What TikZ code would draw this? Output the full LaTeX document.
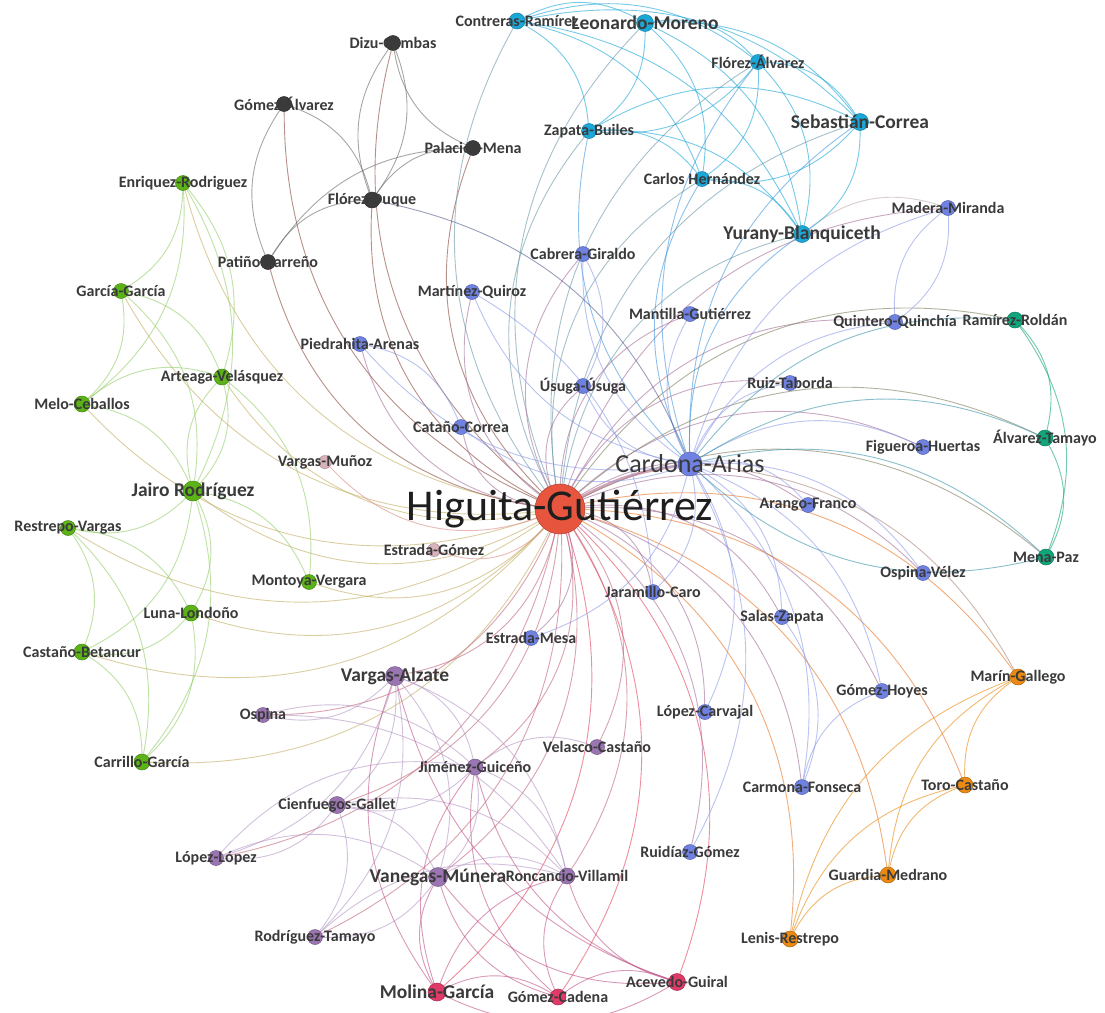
\documentclass[tikz,border=0pt]{standalone}
\usepackage{fontspec}
\setmainfont{Carlito}
\definecolor{cRed}{HTML}{E8553F}
\definecolor{cBlue}{HTML}{6F82E2}
\definecolor{cCyan}{HTML}{1BA8D9}
\definecolor{cBlk}{HTML}{3B3B3B}
\definecolor{cGrn}{HTML}{5BB318}
\definecolor{cTeal}{HTML}{11A57C}
\definecolor{cOrg}{HTML}{EA8A12}
\definecolor{cPur}{HTML}{9B75B2}
\definecolor{cCrm}{HTML}{E03A69}
\definecolor{cPnk}{HTML}{D9B3BC}
\definecolor{hGrn}{HTML}{C4AE62}
\definecolor{labgray}{HTML}{3A3A3A}
\definecolor{labdark}{HTML}{1E1E1E}
\pgfdeclarelayer{edges}
\pgfdeclarelayer{labels}
\pgfsetlayers{edges,main,labels}
\begin{document}
\begin{tikzpicture}[x=1pt,y=-1pt,
  vtx/.style 2 args={circle,inner sep=0pt,minimum size=#2,fill=#1,draw=#1!75!black,line width=0.5pt},
  lab/.style={inner sep=0pt,text=labgray,font=\bfseries\fontsize{16}{16}\selectfont},
  labm/.style={inner sep=0pt,text=labgray,font=\bfseries\fontsize{19.5}{19.5}\selectfont},
  labc/.style={inner sep=0pt,text=labgray,font=\fontsize{26}{26}\selectfont},
  labh/.style={inner sep=0pt,text=labdark,font=\fontsize{44}{44}\selectfont},
  lnk/.style={line width=0.9pt,opacity=0.6,bend left=28},
  lnkr/.style={line width=0.9pt,opacity=0.6,bend right=28},
  hub/.style={line width=0.9pt,opacity=0.6,bend left=33},
]
\begin{pgfonlayer}{edges}
\fill[white] (0,0) rectangle (1105,1012);
\end{pgfonlayer}
\useasboundingbox (0,0) rectangle (1105,1012);

% ---- vertices ----
\node[vtx={cRed}{50}] (higu) at (560,509) {};
% black
\node[vtx={cBlk}{15}] (dizu) at (393,43) {};
\node[vtx={cBlk}{15}] (goma) at (284,104) {};
\node[vtx={cBlk}{15}] (pala) at (473,148) {};
\node[vtx={cBlk}{16}] (flod) at (372,200) {};
\node[vtx={cBlk}{15}] (pati) at (268,262) {};
% cyan
\node[vtx={cCyan}{16}] (cont) at (517,21) {};
\node[vtx={cCyan}{17}] (leon) at (645,23) {};
\node[vtx={cCyan}{15}] (floa) at (758,62) {};
\node[vtx={cCyan}{15}] (zapa) at (589,131) {};
\node[vtx={cCyan}{17}] (seba) at (860,122) {};
\node[vtx={cCyan}{15}] (carl) at (702,179) {};
\node[vtx={cCyan}{17}] (yura) at (802,234) {};
% blue
\node[vtx={cBlue}{15}] (made) at (948,208) {};
\node[vtx={cBlue}{15}] (cabr) at (583,254) {};
\node[vtx={cBlue}{15}] (mart) at (472,292) {};
\node[vtx={cBlue}{15}] (mant) at (690,314) {};
\node[vtx={cBlue}{15}] (quin) at (895,322) {};
\node[vtx={cBlue}{15}] (pied) at (360,344) {};
\node[vtx={cBlue}{15}] (usug) at (583,386) {};
\node[vtx={cBlue}{15}] (ruiz) at (790,383) {};
\node[vtx={cBlue}{15}] (cata) at (461,427) {};
\node[vtx={cBlue}{24}] (card) at (690,464) {};
\node[vtx={cBlue}{15}] (figu) at (923,447) {};
\node[vtx={cBlue}{15}] (aran) at (808,505) {};
\node[vtx={cBlue}{15}] (ospv) at (923,573) {};
\node[vtx={cBlue}{15}] (jara) at (653,592) {};
\node[vtx={cBlue}{15}] (sala) at (782,617) {};
\node[vtx={cBlue}{15}] (estm) at (531,638) {};
\node[vtx={cBlue}{15}] (lopc) at (705,712) {};
\node[vtx={cBlue}{15}] (gomh) at (882,691) {};
\node[vtx={cBlue}{15}] (carm) at (802,787) {};
\node[vtx={cBlue}{15}] (ruid) at (690,852) {};
% teal
\node[vtx={cTeal}{16}] (rami) at (1015,320) {};
\node[vtx={cTeal}{16}] (alva) at (1045,438) {};
\node[vtx={cTeal}{16}] (mena) at (1046,557) {};
% orange
\node[vtx={cOrg}{16}] (mari) at (1018,677) {};
\node[vtx={cOrg}{16}] (toro) at (965,785) {};
\node[vtx={cOrg}{16}] (guar) at (888,875) {};
\node[vtx={cOrg}{16}] (leni) at (790,939) {};
% pale
\node[vtx={cPnk}{13}] (varm) at (325,462) {};
\node[vtx={cPnk}{13}] (estg) at (434,550) {};
% green
\node[vtx={cGrn}{15}] (enri) at (183,183) {};
\node[vtx={cGrn}{15}] (garc) at (121,291) {};
\node[vtx={cGrn}{16}] (arte) at (222,377) {};
\node[vtx={cGrn}{16}] (melo) at (82,404) {};
\node[vtx={cGrn}{20}] (jair) at (193,491) {};
\node[vtx={cGrn}{15}] (rest) at (68,528) {};
\node[vtx={cGrn}{15}] (mont) at (309,582) {};
\node[vtx={cGrn}{16}] (luna) at (191,613) {};
\node[vtx={cGrn}{16}] (cast) at (82,652) {};
\node[vtx={cGrn}{16}] (carr) at (142,762) {};
% purple
\node[vtx={cPur}{19}] (vara) at (395,676) {};
\node[vtx={cPur}{15}] (ospi) at (263,715) {};
\node[vtx={cPur}{16}] (jime) at (475,767) {};
\node[vtx={cPur}{15}] (vela) at (597,747) {};
\node[vtx={cPur}{17}] (cien) at (337,805) {};
\node[vtx={cPur}{15}] (lopl) at (216,858) {};
\node[vtx={cPur}{19}] (vane) at (438,877) {};
\node[vtx={cPur}{16}] (ronc) at (567,876) {};
\node[vtx={cPur}{15}] (rodt) at (315,937) {};
% crimson
\node[vtx={cCrm}{18}] (moli) at (437,992) {};
\node[vtx={cCrm}{16}] (gomc) at (558,997) {};
\node[vtx={cCrm}{17}] (acev) at (677,982) {};

% ---- links ----
\begin{pgfonlayer}{edges}
% from the central author
\begin{scope}[draw=hGrn]
\foreach \t in {enri,garc,arte,melo,jair,rest,mont,luna,cast,carr}
  \draw[hub] (higu) to (\t);
\end{scope}
\begin{scope}[draw=cBlk!55!cRed]
\foreach \t in {dizu,goma,pala,flod,pati}
  \draw[hub] (higu) to (\t);
\end{scope}
\begin{scope}[draw=cCyan!45!cBlk!70!white]
\foreach \t in {cont,leon,floa,zapa,seba,carl,yura}
  \draw[hub] (higu) to (\t);
\end{scope}
\begin{scope}[draw=cBlue!55!cRed]
\foreach \t in {made,cabr,mart,mant,quin,pied,usug,ruiz,cata,figu,aran,ospv,jara,sala,estm,lopc,gomh,carm,ruid}
  \draw[hub] (higu) to (\t);
\end{scope}
\begin{scope}[draw=cTeal!50!cRed]
\foreach \t in {rami,alva,mena}
  \draw[hub] (higu) to (\t);
\end{scope}
\begin{scope}[draw=cOrg!60!cRed]
\foreach \t in {mari,toro,guar,leni}
  \draw[hub] (higu) to (\t);
\end{scope}
\begin{scope}[draw=cPur!50!cRed]
\foreach \t in {vara,ospi,jime,vela,cien,lopl,vane,ronc,rodt}
  \draw[hub] (higu) to (\t);
\end{scope}
\begin{scope}[draw=cCrm!70!cRed]
\foreach \t in {moli,gomc,acev}
  \draw[hub] (higu) to (\t);
\end{scope}
\begin{scope}[draw=cPnk!60!cRed]
\foreach \t in {varm,estg}
  \draw[hub] (higu) to (\t);
\end{scope}
\draw[line width=3pt,opacity=0.6,draw=cBlue!45!cRed,bend left=10] (higu) to (card);

% Cardona-Arias links
\begin{scope}[draw=cBlue!80!white]
\foreach \t in {made,cabr,mart,mant,quin,pied,usug,ruiz,cata,figu,aran,ospv,jara,sala,estm,lopc,gomh,carm,ruid}
  \draw[lnk] (card) to (\t);
\end{scope}
\begin{scope}[draw=cTeal!55!cBlue]
\foreach \t in {rami,alva,mena}
  \draw[lnk] (card) to (\t);
\draw[lnkr] (card) to (mena);
\end{scope}
\begin{scope}[draw=cCyan!55!cBlue]
\foreach \t in {seba,carl,yura,floa,zapa}
  \draw[lnk] (card) to (\t);
\end{scope}
\draw[lnk,draw=cOrg!50!cBlue] (card) to (mari);
\draw[lnk,draw=cBlk!50!cBlue] (flod) to (card);
\draw[lnk,draw=cCyan!40!cRed!60!white] (yura) to (made);

% black group
\begin{scope}[draw=cBlk!75!white]
\draw[lnk] (dizu) to (flod);
\draw[lnk] (flod) to (dizu);
\draw[lnk] (pala) to (dizu);
\draw[lnk] (goma) to (flod);
\draw[lnk] (pati) to (goma);
\draw[lnk] (pati) to (flod);
\draw[lnk] (flod) to (pala);
\draw[lnk] (pati) to (pala);
\end{scope}

% cyan group
\begin{scope}[draw=cCyan]
\foreach \a/\b in {cont/leon,cont/floa,cont/zapa,cont/seba,cont/carl,cont/yura,
  leon/floa,leon/zapa,leon/seba,leon/carl,leon/yura,
  floa/zapa,floa/seba,floa/carl,floa/yura,
  zapa/seba,zapa/carl,zapa/yura,
  seba/carl,seba/yura,carl/yura}
  \draw[lnk] (\a) to (\b);
\end{scope}

% blue group
\begin{scope}[draw=cBlue!80!white]
\draw[lnk] (made) to (quin);
\draw[lnk] (quin) to (made);
\draw[lnk] (cabr) to (usug);
\draw[lnk] (pied) to (cata);
\draw[lnk] (sala) to (carm);
\draw[lnk] (carm) to (gomh);
\draw[lnk] (mart) to (jara);
\end{scope}

% teal group
\begin{scope}[draw=cTeal]
\draw[lnk] (rami) to (alva);
\draw[lnk] (alva) to (mena);
\draw[lnk] (rami) to (mena);
\end{scope}

% orange group
\begin{scope}[draw=cOrg]
\foreach \a/\b in {mari/toro,mari/guar,mari/leni,toro/guar,toro/leni,guar/leni}
  \draw[lnk] (\b) to (\a);
\end{scope}

% green group
\begin{scope}[draw=cGrn!65!white]
\foreach \a/\b in {enri/garc,enri/melo,enri/jair,enri/arte,garc/melo,garc/arte,
  garc/jair,melo/jair,melo/arte,arte/jair,jair/arte,arte/mont,jair/rest,jair/luna,
  jair/cast,jair/carr,jair/mont,rest/cast,rest/carr,rest/luna,luna/cast,luna/carr,cast/carr}
  \draw[lnk] (\a) to (\b);
\end{scope}

% purple group
\begin{scope}[draw=cPur!75!white]
\foreach \a/\b in {vara/ospi,vara/jime,vara/cien,vara/vane,vara/ronc,vara/rodt,vara/lopl,
  ospi/jime,ospi/ronc,jime/cien,jime/vane,jime/ronc,jime/vela,cien/lopl,cien/vane,
  cien/ronc,cien/rodt,lopl/vane,lopl/jime,vane/ronc,vane/rodt,rodt/ronc}
  \draw[lnk] (\a) to (\b);
\end{scope}

% crimson group
\begin{scope}[draw=cCrm!55!cPur]
\foreach \a/\b in {moli/gomc,gomc/acev,moli/jime,moli/vane,moli/ronc,moli/vara,
  gomc/jime,gomc/ronc,gomc/vane,acev/jime,acev/vara,acev/vane,acev/ronc}
  \draw[lnk] (\a) to (\b);
\draw[lnkr] (moli) to (acev);
\end{scope}
\end{pgfonlayer}

% ---- labels ----
\begin{pgfonlayer}{labels}
\node[labh] (t-higu) at (higu) {Higuita-Gutiérrez};
\node[labc] (t-card) at (card) {Cardona-Arias};
\node[lab] (t-dizu) at (dizu) {Dizu-Combas};
\node[lab] (t-goma) at (goma) {Gómez-Álvarez};
\node[lab] (t-pala) at (pala) {Palacios-Mena};
\node[lab] (t-flod) at (flod) {Flórez-Duque};
\node[lab] (t-pati) at (pati) {Patiño-Carreño};
\node[lab] (t-cont) at (cont) {Contreras-Ramírez};
\node[labm] (t-leon) at (leon) {Leonardo-Moreno};
\node[lab] (t-floa) at (floa) {Flórez-Álvarez};
\node[lab] (t-zapa) at (zapa) {Zapata-Builes};
\node[labm] (t-seba) at (seba) {Sebastián-Correa};
\node[lab] (t-carl) at (carl) {Carlos Hernández};
\node[labm] (t-yura) at (yura) {Yurany-Blanquiceth};
\node[lab] (t-made) at (made) {Madera-Miranda};
\node[lab] (t-cabr) at (cabr) {Cabrera-Giraldo};
\node[lab] (t-mart) at (mart) {Martínez-Quiroz};
\node[lab] (t-mant) at (mant) {Mantilla-Gutiérrez};
\node[lab] (t-quin) at (quin) {Quintero-Quinchía};
\node[lab] (t-pied) at (pied) {Piedrahita-Arenas};
\node[lab] (t-usug) at (usug) {Úsuga-Úsuga};
\node[lab] (t-ruiz) at (ruiz) {Ruiz-Taborda};
\node[lab] (t-cata) at (cata) {Cataño-Correa};
\node[lab] (t-figu) at (figu) {Figueroa-Huertas};
\node[lab] (t-aran) at (aran) {Arango-Franco};
\node[lab] (t-ospv) at (ospv) {Ospina-Vélez};
\node[lab] (t-jara) at (jara) {Jaramillo-Caro};
\node[lab] (t-sala) at (sala) {Salas-Zapata};
\node[lab] (t-estm) at (estm) {Estrada-Mesa};
\node[lab] (t-lopc) at (lopc) {López-Carvajal};
\node[lab] (t-gomh) at (gomh) {Gómez-Hoyes};
\node[lab] (t-carm) at (carm) {Carmona-Fonseca};
\node[lab] (t-ruid) at (ruid) {Ruidíaz-Gómez};
\node[lab] (t-rami) at (rami) {Ramírez-Roldán};
\node[lab] (t-alva) at (alva) {Álvarez-Tamayo};
\node[lab] (t-mena) at (mena) {Mena-Paz};
\node[lab] (t-mari) at (mari) {Marín-Gallego};
\node[lab] (t-toro) at (toro) {Toro-Castaño};
\node[lab] (t-guar) at (guar) {Guardia-Medrano};
\node[lab] (t-leni) at (leni) {Lenis-Restrepo};
\node[lab] (t-varm) at (varm) {Vargas-Muñoz};
\node[lab] (t-estg) at (estg) {Estrada-Gómez};
\node[lab] (t-enri) at (enri) {Enriquez-Rodriguez};
\node[lab] (t-garc) at (garc) {García-García};
\node[lab] (t-arte) at (arte) {Arteaga-Velásquez};
\node[lab] (t-melo) at (melo) {Melo-Ceballos};
\node[labm] (t-jair) at (jair) {Jairo Rodríguez};
\node[lab] (t-rest) at (rest) {Restrepo-Vargas};
\node[lab] (t-mont) at (mont) {Montoya-Vergara};
\node[lab] (t-luna) at (luna) {Luna-Londoño};
\node[lab] (t-cast) at (cast) {Castaño-Betancur};
\node[lab] (t-carr) at (carr) {Carrillo-García};
\node[labm] (t-vara) at (vara) {Vargas-Alzate};
\node[lab] (t-ospi) at (ospi) {Ospina};
\node[lab] (t-jime) at (jime) {Jiménez-Guiceño};
\node[lab] (t-vela) at (vela) {Velasco-Castaño};
\node[lab] (t-cien) at (cien) {Cienfuegos-Gallet};
\node[lab] (t-lopl) at (lopl) {López-López};
\node[labm] (t-vane) at (vane) {Vanegas-Múnera};
\node[lab] (t-ronc) at (ronc) {Roncancio-Villamil};
\node[lab] (t-rodt) at (rodt) {Rodríguez-Tamayo};
\node[labm] (t-moli) at (moli) {Molina-García};
\node[lab] (t-gomc) at (gomc) {Gómez-Cadena};
\node[lab] (t-acev) at (acev) {Acevedo-Guiral};
\end{pgfonlayer}
\end{tikzpicture}
\end{document}
